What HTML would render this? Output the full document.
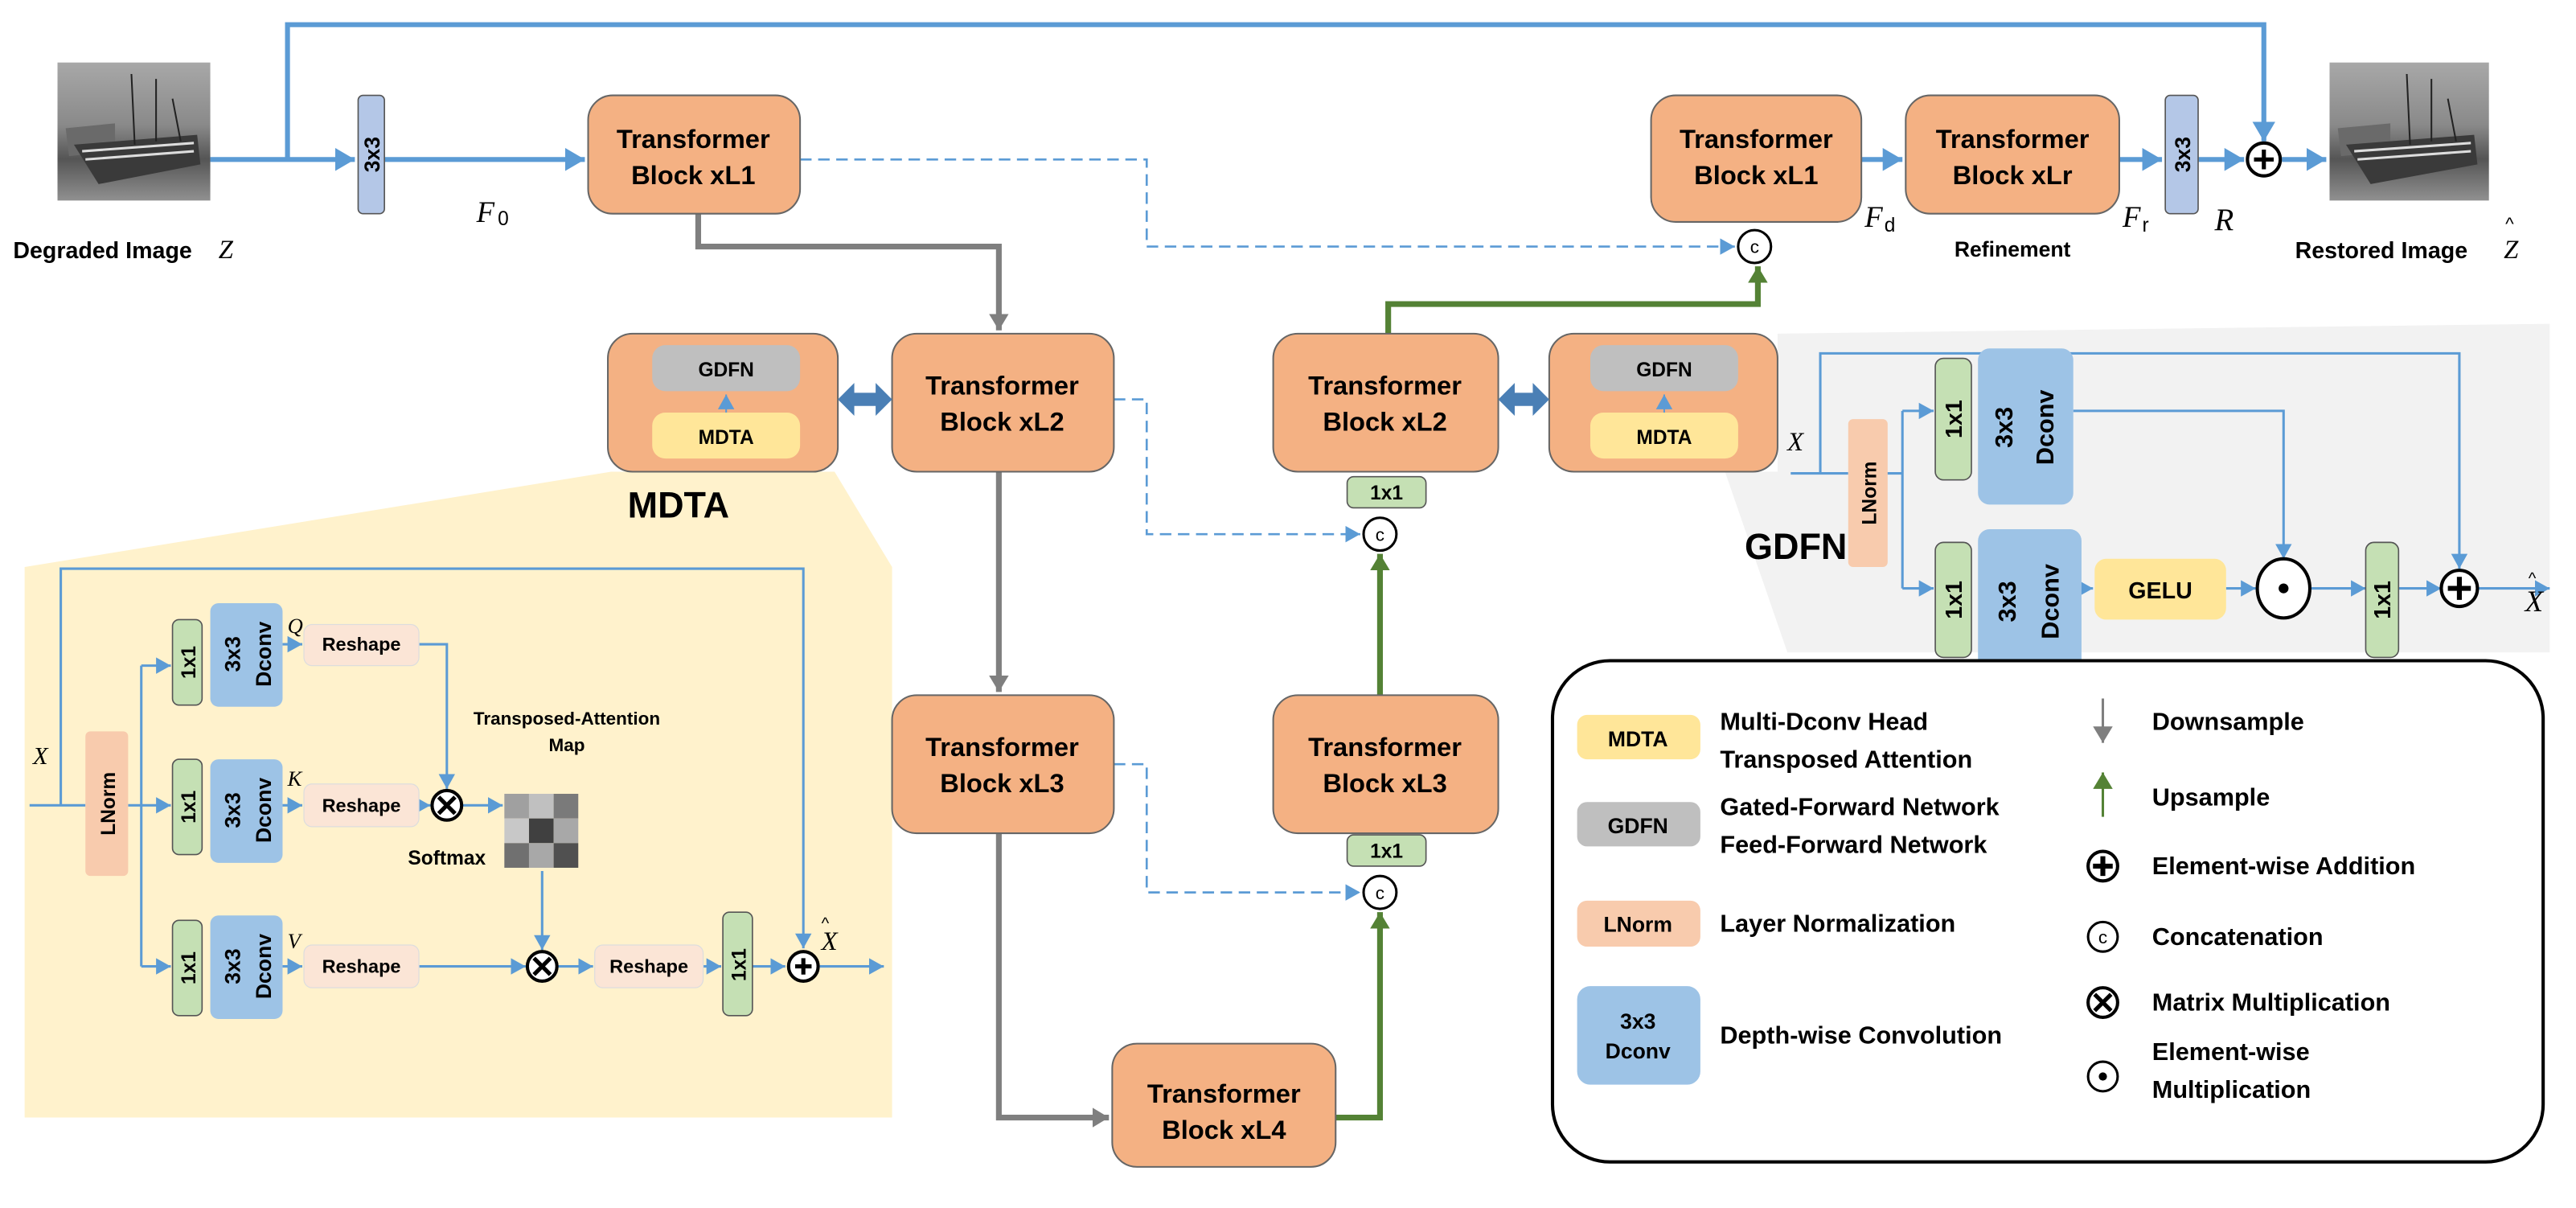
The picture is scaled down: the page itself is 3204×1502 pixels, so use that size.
<!DOCTYPE html>
<html><head><meta charset="utf-8"><style>
html,body{margin:0;padding:0;background:#fff}
svg{display:block}
text{font-family:"Liberation Sans",sans-serif}
.b{font-weight:bold}
.it{font-family:"Liberation Serif",serif;font-style:italic}
</style></head><body>
<svg width="3204" height="1502" viewBox="0 0 1568 735" xmlns="http://www.w3.org/2000/svg">
<defs>
<marker id="ab" markerUnits="userSpaceOnUse" markerWidth="14" markerHeight="14" refX="12" refY="7" orient="auto"><path d="M0,0 L12,7 L0,14 Z" fill="#5b9bd5"/></marker>
<marker id="abs" markerUnits="userSpaceOnUse" markerWidth="10" markerHeight="10" refX="9" refY="5" orient="auto"><path d="M0,0 L9,5 L0,10 Z" fill="#5b9bd5"/></marker>
<marker id="ag" markerUnits="userSpaceOnUse" markerWidth="12" markerHeight="12" refX="10" refY="6" orient="auto"><path d="M0,0 L10,6 L0,12 Z" fill="#7f7f7f"/></marker>
<marker id="agr" markerUnits="userSpaceOnUse" markerWidth="12" markerHeight="12" refX="10" refY="6" orient="auto"><path d="M0,0 L10,6 L0,12 Z" fill="#548235"/></marker>
<linearGradient id="img" x1="0" y1="0" x2="0" y2="1"><stop offset="0" stop-color="#a8a8a8"/><stop offset="0.45" stop-color="#8a8a8a"/><stop offset="0.7" stop-color="#555"/><stop offset="1" stop-color="#909090"/></linearGradient>
</defs>

<polygon points="372,287 508,287 543,345 543,680 15,680 15,345" fill="#fff2cc"/>
<polygon points="1082,203 1552,197 1552,397 1088,397 1050,287 1082,287" fill="#f2f2f2"/>

<g>
<rect x="35" y="38" width="93" height="84" fill="url(#img)"/>
<path d="M40,78 L70,75 L70,92 L42,95 Z" fill="#6a6a6a"/>
<path d="M45,88 L120,82 L122,100 L60,112 Z" fill="#3a3a3a"/><path d="M50,92 L118,87 M52,97 L118,92" stroke="#ddd" stroke-width="1.5"/>
<path d="M80,45 L82,88 M95,48 L95,86 M105,60 L110,86" stroke="#222" stroke-width="1"/>
<rect x="1418" y="38" width="97" height="84" fill="url(#img)"/>
<path d="M1423,78 L1455,75 L1455,92 L1425,95 Z" fill="#6a6a6a"/>
<path d="M1428,88 L1506,82 L1508,100 L1443,112 Z" fill="#3a3a3a"/><path d="M1433,92 L1504,87 M1435,97 L1504,92" stroke="#ddd" stroke-width="1.5"/>
<path d="M1465,45 L1467,88 M1480,48 L1480,86 M1490,60 L1495,86" stroke="#222" stroke-width="1"/>
</g>
<text x="8" y="157" class="b" font-size="14">Degraded Image</text><text x="133" y="157" class="it" font-size="16">Z</text>
<text x="1397" y="157" class="b" font-size="14">Restored Image</text><text x="1524" y="157" class="it" font-size="16">Z</text><text x="1525" y="140" font-size="11">^</text>

<g stroke="#5b9bd5" stroke-width="3" fill="none">
<path d="M128,97 L216,97" marker-end="url(#ab)"/>
<path d="M175,97 L175,15 L1378,15 L1378,86" marker-end="url(#ab)"/>
<path d="M234,97 L356,97" marker-end="url(#ab)"/>
<path d="M1133,97 L1158,97" marker-end="url(#ab)"/>
<path d="M1290,97 L1316,97" marker-end="url(#ab)"/>
<path d="M1338,97 L1366,97" marker-end="url(#ab)"/>
<path d="M1389,97 L1416,97" marker-end="url(#ab)"/>
</g>
<g stroke="#5b9bd5" stroke-width="1.3" fill="none" stroke-dasharray="7,4">
<path d="M487,97 L698,97 L698,150 L1056,150" marker-end="url(#abs)"/>
<path d="M678,243 L698,243 L698,325 L828,325" marker-end="url(#abs)"/>
<path d="M678,465 L698,465 L698,543 L828,543" marker-end="url(#abs)"/>
</g>
<g stroke="#7f7f7f" stroke-width="3.5" fill="none">
<path d="M425,130 L425,150 L608,150 L608,201" marker-end="url(#ag)"/>
<path d="M608,287 L608,421" marker-end="url(#ag)"/>
<path d="M608,507 L608,680 L675,680" marker-end="url(#ag)"/>
</g>
<g stroke="#548235" stroke-width="3.5" fill="none">
<path d="M813,680 L840,680 L840,555" marker-end="url(#agr)"/>
<path d="M840,423 L840,337" marker-end="url(#agr)"/>
<path d="M845,203 L845,185 L1070,185 L1070,162" marker-end="url(#agr)"/>
</g>

<rect x="218" y="58" width="16" height="72" rx="3" fill="#b4c7e7" stroke="#555" stroke-width="0.8"/>
<text transform="translate(231,94) rotate(-90)" text-anchor="middle" class="b" font-size="13">3x3</text>
<rect x="1318" y="58" width="20" height="72" rx="3" fill="#b4c7e7" stroke="#555" stroke-width="0.8"/>
<text transform="translate(1333,94) rotate(-90)" text-anchor="middle" class="b" font-size="13">3x3</text>
<text x="290" y="135" class="it" font-size="18">F</text><text x="303" y="137" font-family="Liberation Serif" font-size="12">0</text>
<text x="1135" y="138" class="it" font-size="18">F</text><text x="1147" y="141" font-family="Liberation Serif" font-size="12">d</text>
<text x="1292" y="138" class="it" font-size="18">F</text><text x="1304" y="141" font-family="Liberation Serif" font-size="12">r</text>
<text x="1348" y="140" class="it" font-size="19">R</text>
<text x="1225" y="156" text-anchor="middle" class="b" font-size="13">Refinement</text>

<g fill="#f4b183" stroke="#666" stroke-width="1">
<rect x="358" y="58" width="129" height="72" rx="15"/>
<rect x="543" y="203" width="135" height="84" rx="15"/>
<rect x="543" y="423" width="135" height="84" rx="15"/>
<rect x="677" y="635" width="136" height="75" rx="15"/>
<rect x="775" y="203" width="137" height="84" rx="15"/>
<rect x="775" y="423" width="137" height="84" rx="15"/>
<rect x="1005" y="58" width="128" height="77" rx="15"/>
<rect x="1160" y="58" width="130" height="72" rx="15"/>
<rect x="370" y="203" width="140" height="84" rx="15"/>
<rect x="943" y="203" width="139" height="84" rx="15"/>
</g>
<g class="b" font-size="16" text-anchor="middle" font-weight="bold">
<text x="422" y="90">Transformer</text><text x="422" y="112">Block xL1</text>
<text x="610" y="240">Transformer</text><text x="610" y="262">Block xL2</text>
<text x="610" y="460">Transformer</text><text x="610" y="482">Block xL3</text>
<text x="745" y="671">Transformer</text><text x="745" y="693">Block xL4</text>
<text x="843" y="240">Transformer</text><text x="843" y="262">Block xL2</text>
<text x="843" y="460">Transformer</text><text x="843" y="482">Block xL3</text>
<text x="1069" y="90">Transformer</text><text x="1069" y="112">Block xL1</text>
<text x="1225" y="90">Transformer</text><text x="1225" y="112">Block xLr</text>
</g>

<g>
<rect x="397" y="210" width="90" height="28" rx="8" fill="#bfbfbf"/>
<rect x="397" y="251" width="90" height="28" rx="8" fill="#ffe699"/>
<text x="442" y="229" text-anchor="middle" class="b" font-size="12">GDFN</text>
<text x="442" y="270" text-anchor="middle" class="b" font-size="12">MDTA</text>
<path d="M442,251 L442,240" stroke="#5b9bd5" stroke-width="1" marker-end="url(#abs)"/>
<rect x="968" y="210" width="90" height="28" rx="8" fill="#bfbfbf"/>
<rect x="968" y="251" width="90" height="28" rx="8" fill="#ffe699"/>
<text x="1013" y="229" text-anchor="middle" class="b" font-size="12">GDFN</text>
<text x="1013" y="270" text-anchor="middle" class="b" font-size="12">MDTA</text>
<path d="M1013,251 L1013,240" stroke="#5b9bd5" stroke-width="1" marker-end="url(#abs)"/>
</g>
<path d="M510,243 L520,233 L520,239 L533,239 L533,233 L543,243 L533,253 L533,247 L520,247 L520,253 Z" fill="#4a7fb5"/>
<path d="M912,243 L922,233 L922,239 L933,239 L933,233 L943,243 L933,253 L933,247 L922,247 L922,253 Z" fill="#4a7fb5"/>

<rect x="820" y="290" width="48" height="19" rx="4" fill="#c5e0b4" stroke="#555" stroke-width="0.8"/>
<text x="844" y="304" text-anchor="middle" class="b" font-size="12">1x1</text>
<rect x="820" y="508" width="48" height="19" rx="4" fill="#c5e0b4" stroke="#555" stroke-width="0.8"/>
<text x="844" y="522" text-anchor="middle" class="b" font-size="12">1x1</text>
<g fill="#fff" stroke="#000" stroke-width="1.5">
<circle cx="840" cy="325" r="10"/><circle cx="840" cy="543" r="10"/><circle cx="1068" cy="150" r="10"/>
</g>
<g text-anchor="middle" font-size="11"><text x="840" y="329">c</text><text x="840" y="547">c</text><text x="1068" y="154">c</text></g>
<circle cx="1378" cy="97" r="10" fill="#fff" stroke="#000" stroke-width="2"/>
<path d="M1372,97 L1384,97 M1378,91 L1378,103" stroke="#000" stroke-width="2.5"/>

<text x="413" y="315" text-anchor="middle" class="b" font-size="22">MDTA</text>
<text x="20" y="465" class="it" font-size="15">X</text>
<g stroke="#5b9bd5" stroke-width="1.5" fill="none">
<path d="M18,490 L52,490"/>
<path d="M37,490 L37,346 L489,346 L489,577" marker-end="url(#abs)"/>
<path d="M78,490 L86,490 M86,405 L86,588"/>
<path d="M86,405 L104,405" marker-end="url(#abs)"/>
<path d="M86,490 L104,490" marker-end="url(#abs)"/>
<path d="M86,588 L104,588" marker-end="url(#abs)"/>
<path d="M172,392 L184,392" marker-end="url(#abs)"/>
<path d="M172,490 L184,490" marker-end="url(#abs)"/>
<path d="M172,588 L184,588" marker-end="url(#abs)"/>
<path d="M255,392 L272,392 L272,480" marker-end="url(#abs)"/>
<path d="M255,490 L262,490" marker-end="url(#abs)"/>
<path d="M281,490 L306,490" marker-end="url(#abs)"/>
<path d="M330,530 L330,578" marker-end="url(#abs)"/>
<path d="M255,588 L320,588" marker-end="url(#abs)"/>
<path d="M339,588 L361,588" marker-end="url(#abs)"/>
<path d="M428,588 L439,588" marker-end="url(#abs)"/>
<path d="M458,588 L478,588" marker-end="url(#abs)"/>
<path d="M499,588 L538,588" marker-end="url(#abs)"/>
</g>
<rect x="52" y="445" width="26" height="88" rx="3" fill="#f8cbad"/>
<text transform="translate(70,489) rotate(-90)" text-anchor="middle" class="b" font-size="12">LNorm</text>
<g fill="#c5e0b4" stroke="#555" stroke-width="0.8">
<rect x="105" y="377" width="18" height="52" rx="4"/><rect x="105" y="462" width="18" height="58" rx="4"/><rect x="105" y="560" width="18" height="58" rx="4"/><rect x="440" y="555" width="18" height="63" rx="4"/>
</g>
<g class="b" font-size="12" text-anchor="middle">
<text transform="translate(119,403) rotate(-90)">1x1</text><text transform="translate(119,491) rotate(-90)">1x1</text><text transform="translate(119,589) rotate(-90)">1x1</text><text transform="translate(454,587) rotate(-90)">1x1</text>
</g>
<g fill="#9dc3e6">
<rect x="128" y="367" width="44" height="63" rx="5"/><rect x="128" y="462" width="44" height="63" rx="5"/><rect x="128" y="557" width="44" height="63" rx="5"/>
</g>
<g class="b" font-size="13" text-anchor="middle">
<text transform="translate(146,398) rotate(-90)">3x3</text><text transform="translate(165,398) rotate(-90)">Dconv</text>
<text transform="translate(146,493) rotate(-90)">3x3</text><text transform="translate(165,493) rotate(-90)">Dconv</text>
<text transform="translate(146,588) rotate(-90)">3x3</text><text transform="translate(165,588) rotate(-90)">Dconv</text>
</g>
<text x="175" y="385" class="it" font-size="13">Q</text><text x="175" y="478" class="it" font-size="13">K</text><text x="175" y="577" class="it" font-size="13">V</text>
<g fill="#fbe5d6" stroke="#ddd" stroke-width="0.6">
<rect x="185" y="380" width="70" height="25" rx="5"/><rect x="185" y="477" width="70" height="26" rx="5"/><rect x="185" y="575" width="70" height="26" rx="5"/><rect x="362" y="575" width="66" height="26" rx="5"/>
</g>
<g class="b" font-size="11.5" text-anchor="middle">
<text x="220" y="396">Reshape</text><text x="220" y="494">Reshape</text><text x="220" y="592">Reshape</text><text x="395" y="592">Reshape</text>
</g>
<text x="345" y="441" text-anchor="middle" class="b" font-size="11">Transposed-Attention</text>
<text x="345" y="457" text-anchor="middle" class="b" font-size="11">Map</text>
<text x="272" y="526" text-anchor="middle" class="b" font-size="12">Softmax</text>
<g>
<rect x="307" y="483" width="15" height="15" fill="#a0a0a0"/><rect x="322" y="483" width="15" height="15" fill="#c0c0c0"/><rect x="337" y="483" width="15" height="15" fill="#7a7a7a"/>
<rect x="307" y="498" width="15" height="15" fill="#c8c8c8"/><rect x="322" y="498" width="15" height="15" fill="#404040"/><rect x="337" y="498" width="15" height="15" fill="#a8a8a8"/>
<rect x="307" y="513" width="15" height="15" fill="#707070"/><rect x="322" y="513" width="15" height="15" fill="#a8a8a8"/><rect x="337" y="513" width="15" height="15" fill="#505050"/>
</g>
<g fill="#fff" stroke="#000" stroke-width="2">
<circle cx="272" cy="490" r="9"/><circle cx="330" cy="588" r="9"/><circle cx="489" cy="588" r="9"/>
</g>
<path d="M267,485 L277,495 M277,485 L267,495 M325,583 L335,593 M335,583 L325,593 M484,588 L494,588 M489,583 L489,593" stroke="#000" stroke-width="2.5"/>
<text x="500" y="578" class="it" font-size="16">X</text><text x="500" y="565" font-size="10">^</text>

<text x="1062" y="340" class="b" font-size="22">GDFN</text>
<text x="1088" y="274" class="it" font-size="16">X</text>
<g stroke="#5b9bd5" stroke-width="1.5" fill="none">
<path d="M1090,288 L1125,288"/>
<path d="M1108,288 L1108,215 L1497,215 L1497,346" marker-end="url(#abs)"/>
<path d="M1148,288 L1158,288 M1158,250 L1158,358"/>
<path d="M1158,250 L1177,250" marker-end="url(#abs)"/>
<path d="M1158,358 L1177,358" marker-end="url(#abs)"/>
<path d="M1262,250 L1390,250 L1390,340" marker-end="url(#abs)"/>
<path d="M1267,358 L1274,358" marker-end="url(#abs)"/>
<path d="M1355,358 L1373,358" marker-end="url(#abs)"/>
<path d="M1407,358 L1440,358" marker-end="url(#abs)"/>
<path d="M1460,358 L1486,358" marker-end="url(#abs)"/>
<path d="M1508,358 L1552,358" marker-end="url(#abs)"/>
</g>
<rect x="1125" y="255" width="24" height="90" rx="3" fill="#f8cbad"/>
<text transform="translate(1142,300) rotate(-90)" text-anchor="middle" class="b" font-size="12">LNorm</text>
<g fill="#c5e0b4" stroke="#555" stroke-width="0.8">
<rect x="1178" y="218" width="22" height="74" rx="5"/><rect x="1178" y="330" width="22" height="70" rx="5"/><rect x="1440" y="330" width="20" height="70" rx="5"/>
</g>
<g class="b" font-size="14" text-anchor="middle">
<text transform="translate(1194,255) rotate(-90)">1x1</text><text transform="translate(1194,365) rotate(-90)">1x1</text><text transform="translate(1455,365) rotate(-90)">1x1</text>
</g>
<g fill="#9dc3e6"><rect x="1204" y="212" width="58" height="95" rx="7"/><rect x="1204" y="322" width="63" height="88" rx="7"/></g>
<g class="b" font-size="15" text-anchor="middle">
<text transform="translate(1225,260) rotate(-90)">3x3</text><text transform="translate(1250,260) rotate(-90)">Dconv</text>
<text transform="translate(1227,366) rotate(-90)">3x3</text><text transform="translate(1253,366) rotate(-90)">Dconv</text>
</g>
<rect x="1275" y="340" width="80" height="37" rx="7" fill="#ffe699"/>
<text x="1315" y="364" text-anchor="middle" class="b" font-size="14">GELU</text>
<ellipse cx="1390" cy="358" rx="16" ry="18" fill="#fff" stroke="#000" stroke-width="2"/>
<circle cx="1390" cy="358" r="3" fill="#000"/>
<circle cx="1497" cy="358" r="11" fill="#fff" stroke="#000" stroke-width="2"/>
<path d="M1490,358 L1504,358 M1497,351 L1497,365" stroke="#000" stroke-width="3"/>
<text x="1537" y="372" class="it" font-size="18">X</text><text x="1539" y="355" font-size="10">^</text>

<rect x="945" y="402" width="603" height="305" rx="35" fill="#fff" stroke="#000" stroke-width="2"/>
<rect x="960" y="435" width="75" height="27" rx="6" fill="#ffe699"/><text x="997" y="454" text-anchor="middle" class="b" font-size="13">MDTA</text>
<rect x="960" y="488" width="75" height="27" rx="6" fill="#bfbfbf"/><text x="997" y="507" text-anchor="middle" class="b" font-size="13">GDFN</text>
<rect x="960" y="548" width="75" height="28" rx="6" fill="#f8cbad"/><text x="997" y="567" text-anchor="middle" class="b" font-size="13">LNorm</text>
<rect x="960" y="600" width="75" height="60" rx="8" fill="#9dc3e6"/><text x="997" y="626" text-anchor="middle" class="b" font-size="13">3x3</text><text x="997" y="644" text-anchor="middle" class="b" font-size="13">Dconv</text>
<g class="b" font-size="15">
<text x="1047" y="444">Multi-Dconv Head</text><text x="1047" y="467">Transposed Attention</text>
<text x="1047" y="496">Gated-Forward Network</text><text x="1047" y="519">Feed-Forward Network</text>
<text x="1047" y="567">Layer Normalization</text>
<text x="1047" y="635">Depth-wise Convolution</text>
<text x="1310" y="444">Downsample</text>
<text x="1310" y="490">Upsample</text>
<text x="1310" y="532">Element-wise Addition</text>
<text x="1310" y="575">Concatenation</text>
<text x="1310" y="615">Matrix Multiplication</text>
<text x="1310" y="645">Element-wise</text><text x="1310" y="668">Multiplication</text>
</g>
<path d="M1280,425 L1280,452" stroke="#7f7f7f" stroke-width="1.5" marker-end="url(#ag)"/>
<path d="M1280,497 L1280,470" stroke="#548235" stroke-width="1.5" marker-end="url(#agr)"/>
<circle cx="1280" cy="527" r="9" fill="#fff" stroke="#000" stroke-width="2"/><path d="M1274,527 L1286,527 M1280,521 L1280,533" stroke="#000" stroke-width="3"/>
<circle cx="1280" cy="570" r="9" fill="#fff" stroke="#000" stroke-width="1.5"/><text x="1280" y="574" text-anchor="middle" font-size="11">c</text>
<circle cx="1280" cy="610" r="9" fill="#fff" stroke="#000" stroke-width="2"/><path d="M1275,605 L1285,615 M1285,605 L1275,615" stroke="#000" stroke-width="2.5"/>
<circle cx="1280" cy="655" r="9" fill="#fff" stroke="#000" stroke-width="1.5"/><circle cx="1280" cy="655" r="2.5" fill="#000"/>
</svg>
</body></html>
